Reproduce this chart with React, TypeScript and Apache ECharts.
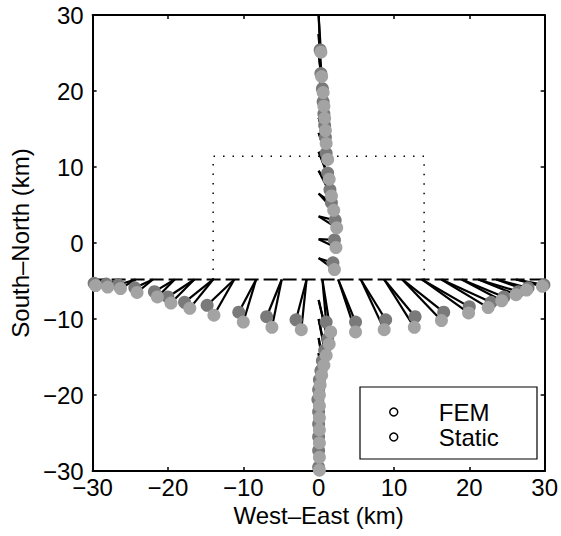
import React, { useEffect, useRef } from "react";
import * as echarts from "echarts";

// Axis ticks
const xTicks = [-30, -20, -10, 0, 10, 20, 30];
const yTicks = [-30, -20, -10, 0, 10, 20, 30];

// Station line along South–North = -4.8 km (W–E profile)
const ROW_Y = -4.8;
const rowStationX = [-28.5, -26.5, -24.3, -22.0, -19.1, -16.5, -14.0, -11.2, -8.3, -4.9, -1.6, 0.5, 2.6, 5.6, 8.7, 11.1, 13.7, 16.3, 19.0, 21.2, 23.6, 26.2];
const rowFemX = [-29.8, -28.2, -26.6, -24.4, -21.8, -20.0, -17.8, -14.8, -10.6, -6.9, -3.0, 1.0, 4.9, 8.9, 12.8, 16.6, 20.0, 22.9, 24.6, 26.5, 27.8, 29.9];
const rowFemY = [-5.3, -5.4, -5.5, -5.9, -6.4, -7.1, -7.8, -8.2, -9.1, -9.7, -10.1, -10.4, -10.4, -10.1, -9.7, -9.1, -8.4, -7.8, -7.1, -6.4, -5.9, -5.5];
const rowStaticX = [-29.6, -28.0, -26.3, -24.1, -21.4, -19.6, -17.1, -13.9, -10.0, -6.2, -2.3, 1.6, 4.9, 8.7, 12.7, 16.3, 19.9, 22.5, 24.3, 26.2, 27.6, 29.7];
const rowStaticY = [-5.6, -5.8, -6.0, -6.5, -7.1, -7.9, -8.6, -9.5, -10.4, -11.1, -11.4, -11.7, -11.7, -11.4, -11.1, -10.2, -9.2, -8.5, -7.6, -6.8, -6.2, -5.7];

// Station line along West–East = 0 km (S–N profile)
const COL_X = 0;
const colStationY = [30, 27.5, 25, 22.5, 20.5, 18.5, 16.5, 14.5, 12, 9.5, 6.5, 3.5, 0.5, -2, -7.5, -10, -12.5, -14.5, -16.5, -18.5, -20.5, -22.5, -24.5, -26.5, -28.5, -29.5];
const colFemX = [0.2, 0.3, 0.5, 0.6, 0.7, 0.8, 0.9, 1.0, 1.2, 1.5, 1.7, 2.2, 2.1, 1.9, 1.2, 0.8, 0.5, 0.3, 0.1, 0.0, -0.1, 0.0, 0.0, 0.0, 0.0, 0.0];
const colFemY = [25.4, 22.3, 20.3, 18.6, 17.0, 15.5, 13.9, 11.8, 9.2, 7.0, 5.3, 3.0, 0.4, -2.6, -12.6, -14.1, -15.5, -16.8, -18.0, -19.3, -20.6, -22.2, -23.8, -25.5, -27.3, -29.5];
const colStaticX = [0.3, 0.4, 0.6, 0.7, 0.8, 0.9, 1.0, 1.2, 1.4, 1.7, 2.0, 2.4, 2.3, 2.1, 1.4, 1.0, 0.7, 0.4, 0.2, 0.1, 0.1, 0.1, 0.1, 0.1, 0.1, 0.1];
const colStaticY = [25.1, 21.9, 19.8, 18.0, 16.4, 14.8, 13.1, 11.0, 8.4, 6.2, 4.3, 2.0, -0.6, -3.5, -13.3, -14.8, -16.1, -17.4, -18.7, -20.0, -21.4, -23.0, -24.6, -26.3, -28.2, -29.9];

// Fault trace (dashed) and dotted rectangle corners
const faultTrace = [[-30, -4.8], [30, -4.8]];
const boxCorners = [[-14, -4.8], [-14, 11.4], [14, 11.4], [14, -4.8]];

const FONT = "'Liberation Sans', Arial, Helvetica, sans-serif";
const FS = 24;
const fmt = (v: number) => String(v).replace("-", "\u2212");

export default function App() {
  const ref = useRef<HTMLDivElement>(null);
  useEffect(() => {
    if (!ref.current) return;
    const chart = echarts.init(ref.current, null, { renderer: "svg" });

    const vecLines: any[] = [];
    rowStationX.forEach((xs, i) => {
      vecLines.push({ coords: [[xs, ROW_Y], [rowFemX[i], rowFemY[i]]] });
      vecLines.push({ coords: [[xs, ROW_Y], [rowStaticX[i], rowStaticY[i]]] });
    });
    colStationY.forEach((ys, i) => {
      vecLines.push({ coords: [[COL_X, ys], [colFemX[i], colFemY[i]]] });
      vecLines.push({ coords: [[COL_X, ys], [colStaticX[i], colStaticY[i]]] });
    });

    const femData = [
      ...rowFemX.map((x, i) => [x, rowFemY[i]]),
      ...colFemX.map((x, i) => [x, colFemY[i]]),
    ];
    const staticData = [
      ...rowStaticX.map((x, i) => [x, rowStaticY[i]]),
      ...colStaticX.map((x, i) => [x, colStaticY[i]]),
    ];

    const axisCommon = {
      type: "value",
      min: -30,
      max: 30,
      interval: 10,
      splitLine: { show: false },
      axisLine: { show: true, onZero: false, lineStyle: { color: "#000", width: 2 } },
      axisTick: { show: true, inside: true, length: 4, lineStyle: { color: "#000", width: 1.5 } },
    };

    chart.setOption({
      animation: false,
      backgroundColor: "#fff",
      grid: { left: 92, top: 15, width: 457, height: 456 },
      xAxis: [
        {
          ...axisCommon,
          position: "bottom",
          axisLabel: { fontSize: FS, lineHeight: 18, color: "#000", fontFamily: FONT, margin: 7, formatter: fmt },
          name: "West\u2013East (km)",
          nameLocation: "middle",
          nameGap: 30,
          nameTextStyle: { fontSize: FS, color: "#000", fontFamily: FONT },
        },
        { ...axisCommon, position: "top", axisLabel: { show: false } },
      ],
      yAxis: [
        {
          ...axisCommon,
          position: "left",
          axisLabel: { fontSize: FS, lineHeight: 14, color: "#000", fontFamily: FONT, margin: 9, formatter: fmt },
          name: "South\u2013North (km)",
          nameLocation: "middle",
          nameGap: 57,
          nameTextStyle: { fontSize: FS, color: "#000", fontFamily: FONT },
        },
        { ...axisCommon, position: "right", axisLabel: { show: false } },
      ],
      legend: {
        left: 389,
        top: 400,
        orient: "vertical",
        padding: 0,
        itemWidth: 8,
        itemHeight: 8,
        itemGap: 1,
        selectedMode: false,
        z: 10,
        textStyle: { fontSize: FS, lineHeight: 22, color: "#000", fontFamily: FONT, padding: [0, 0, 0, 36] },
        data: [
          { name: "FEM", icon: "circle", itemStyle: { color: "#fff", borderColor: "#000", borderWidth: 1.5 } },
          { name: "Static", icon: "circle", itemStyle: { color: "#fff", borderColor: "#000", borderWidth: 1.5 } },
        ],
      },
      graphic: [
        {
          type: "rect",
          z: 5,
          shape: { x: 360, y: 387, width: 177, height: 72 },
          style: { fill: "#fff", stroke: "#000", lineWidth: 1.2 },
        },
      ],
      series: [
        {
          type: "line",
          name: "fault",
          data: faultTrace,
          symbol: "none",
          lineStyle: { color: "#000", width: 1.8, type: [14, 5] },
          z: 1,
        },
        {
          type: "line",
          name: "box",
          data: boxCorners,
          symbol: "none",
          lineStyle: { color: "#000", width: 1.5, type: [1.5, 8] },
          z: 1,
        },
        {
          type: "lines",
          name: "vectors",
          coordinateSystem: "cartesian2d",
          data: vecLines,
          lineStyle: { color: "#000", width: 2.2, opacity: 1 },
          z: 2,
        },
        {
          type: "scatter",
          name: "FEM",
          data: femData,
          symbol: "circle",
          symbolSize: 13,
          itemStyle: { color: "#7a7a7a", opacity: 1 },
          z: 3,
        },
        {
          type: "scatter",
          name: "Static",
          data: staticData,
          symbol: "circle",
          symbolSize: 13,
          itemStyle: { color: "#a3a3a3", opacity: 1 },
          z: 3,
        },
      ],
    });
    return () => chart.dispose();
  }, []);
  return <div ref={ref} style={{ width: 561, height: 536, position: "absolute", left: 0, top: 0 }} />;
}
